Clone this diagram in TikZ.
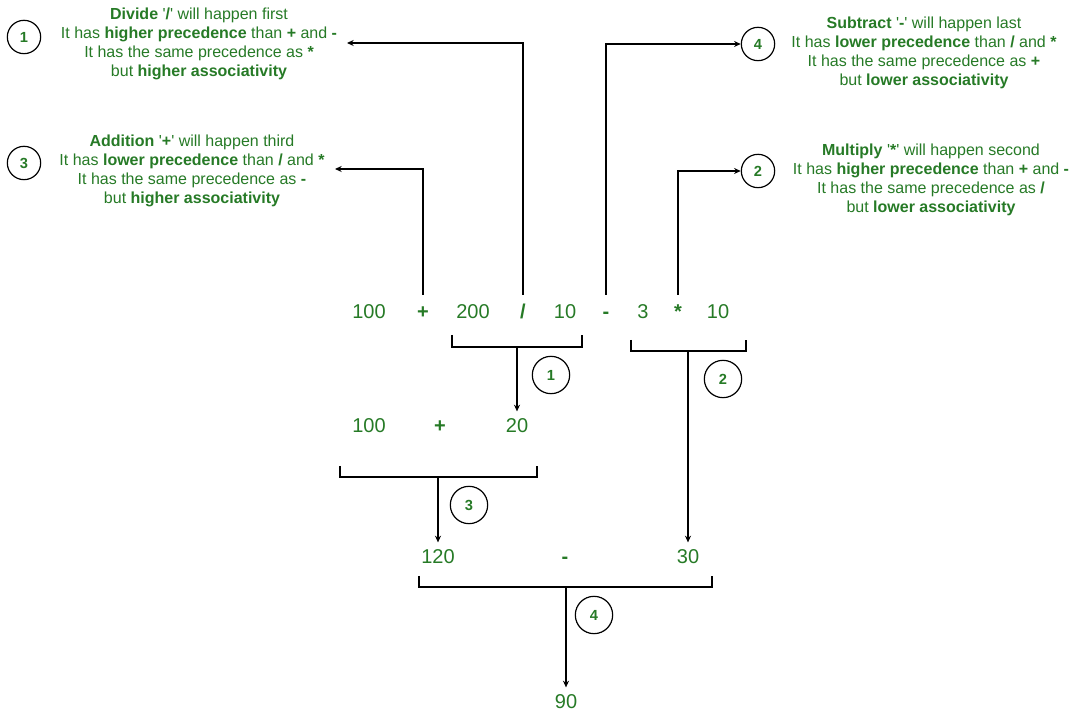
\documentclass[tikz,border=0pt]{standalone}
\usepackage{fontspec}
\setmainfont{Liberation Sans}
\usetikzlibrary{arrows.meta}
\definecolor{leaf}{RGB}{38,122,38}

\begin{document}
\begin{tikzpicture}[x=0.75pt,y=-0.75pt,
        num/.style={text=leaf,font=\fontsize{15}{18}\selectfont,text height=11pt,text depth=0pt,inner xsep=1pt,inner ysep=4.5pt},
        op/.style={num,font=\fontsize{15}{18}\selectfont\bfseries,outer ysep=2pt},
        note/.style={text=leaf,align=center,font=\fontsize{12}{14.3}\selectfont,inner sep=0pt},
        badge/.style={draw,circle,line width=0.9pt,text=leaf,font=\fontsize{11}{13}\selectfont\bfseries,minimum size=25pt,inner sep=0pt},
        stepbadge/.style={badge,minimum size=28pt},
        conn/.style={-{Stealth[length=5pt,width=4.5pt]},line width=0.9pt},
        brace/.style={line width=0.9pt}]
        \useasboundingbox (0,0) rectangle (1076,712);

        % ausdruck
        \node[num] (n100) at (369,311) {100};
        \node[op]  (plus) at (423,311) {+};
        \node[num] (n200) at (473,311) {200};
        \node[op]  (div)  at (523,311) {/};
        \node[num] (n10)  at (565,311) {10};
        \node[op]  (minus) at (606,311) {-};
        \node[num] (n3)   at (643,311) {3};
        \node[op]  (mul)  at (678,311) {*};
        \node[num] (n10b) at (718,311) {10};

        % zwischenschritte
        \node[num] (m100) at (369,425) {100};
        \node[op]  (mplus) at (440,425) {+};
        \node[num] (m20)  at (517,425) {20};

        \node[num] (r120) at (438,556) {120};
        \node[op]  (rminus) at (565,556) {-};
        \node[num] (r30)  at (688,556) {30};

        \node[num] (r90)  at (566,701) {90};

        % erklaerungen
        \node[badge] (c1) at (24,37) {1};
        \node[note] (note1) at (199,44) {\textbf{Divide} \textquotesingle\textbf{/}\textquotesingle{} will happen first\\
            It has \textbf{higher precedence} than \textbf{+} and \textbf{-}\\
            It has the same precedence as \textbf{*}\\
            but \textbf{higher associativity}};

        \node[badge] (c3) at (24,163) {3};
        \node[note] (note3) at (192,171) {\textbf{Addition} \textquotesingle\textbf{+}\textquotesingle{} will happen third\\
            It has \textbf{lower precedence} than \textbf{/} and \textbf{*}\\
            It has the same precedence as \textbf{-}\\
            but \textbf{higher associativity}};

        \node[badge] (c4) at (758,44) {4};
        \node[note] (note4) at (924,53) {\textbf{Subtract} \textquotesingle\textbf{-}\textquotesingle{} will happen last\\
            It has \textbf{lower precedence} than \textbf{/} and \textbf{*}\\
            It has the same precedence as \textbf{+}\\
            but \textbf{lower associativity}};

        \node[badge] (c2) at (758,171) {2};
        \node[note] (note2) at (931,180) {\textbf{Multiply} \textquotesingle\textbf{*}\textquotesingle{} will happen second\\
            It has \textbf{higher precedence} than \textbf{+} and \textbf{-}\\
            It has the same precedence as \textbf{/}\\
            but \textbf{lower associativity}};

        % pfeile nach oben
        \coordinate (tip1) at (347,43);
        \coordinate (tip3) at (335,169);
        \draw[conn] (div.north) |- (tip1);
        \draw[conn] (plus.north) |- (tip3);
        \draw[conn] (minus.north) |- (c4.west);
        \draw[conn] (mul.north) |- (c2.west);

        % klammern
        \draw[brace] (452,335) |- (582,347) -- (582,335);
        \draw[brace] (631,340) |- (746,351) -- (746,340);
        \draw[brace] (340,466) |- (537,477) -- (537,466);
        \draw[brace] (419,576) |- (712,587) -- (712,576);

        \coordinate (k1) at (517,347);
        \coordinate (k2) at (688,351);
        \coordinate (k3) at (438,477);
        \coordinate (k4) at (566,587);
        \draw[conn] (k1) -- (m20.north);
        \draw[conn] (k2) -- (r30.north);
        \draw[conn] (k3) -- (r120.north);
        \draw[conn] (k4) -- (r90.north);

        \node[stepbadge] (s1) at (551,375) {1};
        \node[stepbadge] (s2) at (723,379) {2};
        \node[stepbadge] (s3) at (469,505) {3};
        \node[stepbadge] (s4) at (594,615) {4};

    \end{tikzpicture}
\end{document}
